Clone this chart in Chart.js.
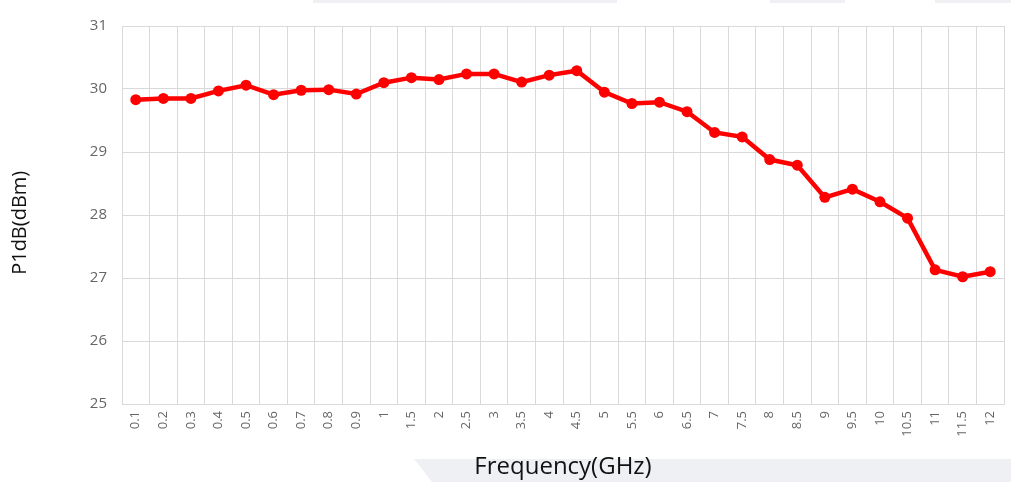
<!DOCTYPE html>
<html>
<head>
<meta charset="utf-8">
<script src="https://cdn.jsdelivr.net/npm/chart.js@4"></script>
<style>
  html, body { margin: 0; padding: 0; background: #fff; }
  #wrap { width: 1011px; height: 482px; position: relative; }
</style>
</head>
<body>
<div id="wrap"><canvas id="myChart" width="1011" height="482"></canvas></div>
<script>
const frequencies = ['0.1', '0.2', '0.3', '0.4', '0.5', '0.6', '0.7', '0.8', '0.9', '1',
  '1.5', '2', '2.5', '3', '3.5', '4', '4.5', '5', '5.5', '6', '6.5', '7', '7.5', '8',
  '8.5', '9', '9.5', '10', '10.5', '11', '11.5', '12'];
const p1dbValues = [29.83, 29.85, 29.85, 29.97, 30.06, 29.91, 29.98, 29.99, 29.92, 30.10,
  30.18, 30.15, 30.24, 30.24, 30.11, 30.22, 30.29, 29.95, 29.77, 29.79, 29.64, 29.31, 29.24, 28.88,
  28.79, 28.28, 28.41, 28.21, 27.95, 27.13, 27.02, 27.10];
const yMin = 25;
const yMax = 31;

const gridColor = '#d9d9d9';
const tickColor = '#666666';
const fontName = "'Open Sans', sans-serif";

// light grey shapes along the top and behind the x title (from the screenshot)
const backdrop = {
  id: 'backdrop',
  beforeDraw(chart) {
    const c = chart.ctx;
    c.save();
    c.fillStyle = '#eff0f4';
    c.fillRect(313, 0, 304, 3);
    c.fillRect(770, 0, 75, 3);
    c.fillRect(935, 0, 76, 3);
    c.beginPath();
    c.moveTo(414, 459);
    c.lineTo(1011, 459);
    c.lineTo(1011, 482);
    c.lineTo(432, 482);
    c.closePath();
    c.fill();
    c.restore();
  }
};

const ctx = document.getElementById('myChart').getContext('2d');
new Chart(ctx, {
  type: 'line',
  data: {
    labels: frequencies,
    datasets: [{
      label: 'P1dB',
      data: p1dbValues,
      borderColor: '#ff0000',
      backgroundColor: '#ff0000',
      borderWidth: 4.5,
      pointRadius: 5.5,
      pointBorderWidth: 0,
      tension: 0,
    }],
  },
  options: {
    responsive: false,
    animation: false,
    layout: { padding: { top: 26, right: 7, left: 0, bottom: 0 } },
    plugins: {
      legend: { display: false },
      tooltip: { enabled: false },
    },
    scales: {
      x: {
        offset: true,
        grid: { offset: true, color: gridColor, drawTicks: false },
        border: { color: gridColor },
        ticks: {
          color: tickColor,
          font: { family: fontName, size: 13 },
          minRotation: 90,
          maxRotation: 90,
          padding: 7,
          autoSkip: false,
        },
        title: {
          display: true,
          text: 'Frequency(GHz)',
          color: '#111',
          font: { family: fontName, size: 24 },
          padding: { top: 0, bottom: 0 },
        },
        afterFit(scale) {
          scale.height = 78;
          scale.paddingRight = 0;
        },
      },
      y: {
        min: yMin,
        max: yMax,
        grid: { color: gridColor, drawTicks: false },
        border: { color: gridColor },
        ticks: {
          stepSize: 1,
          color: tickColor,
          font: { family: fontName, size: 15 },
          padding: 15,
        },
        title: {
          display: true,
          // trailing spaces nudge the rotated title down like the original
          text: 'P1dB(dBm)\u00a0\u00a0\u00a0',
          color: '#111',
          font: { family: fontName, size: 20 },
          padding: { top: 8, bottom: 0 },
        },
        afterFit(scale) { scale.width = 122; },
      },
    },
  },
  plugins: [backdrop],
});
</script>
</body>
</html>
